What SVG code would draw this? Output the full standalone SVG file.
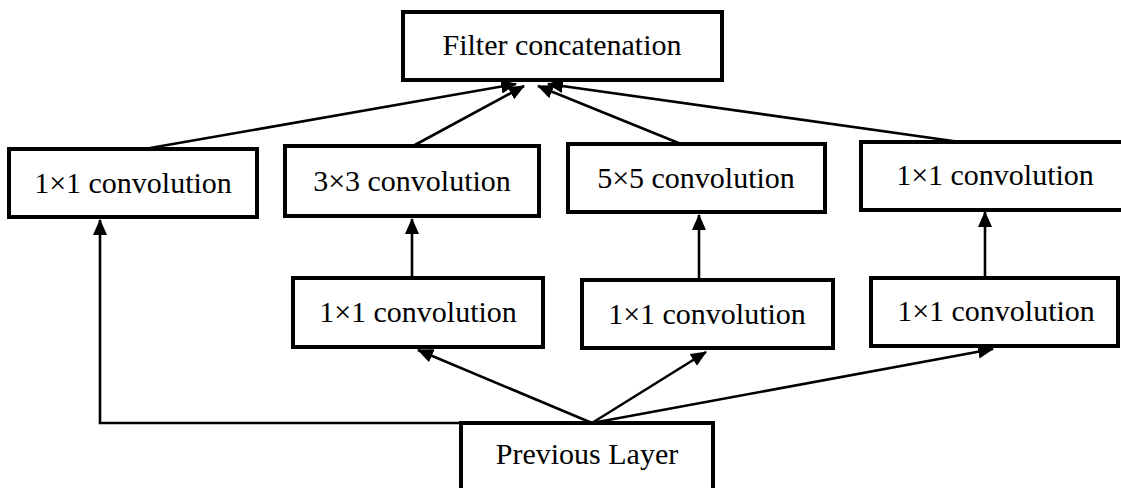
<svg xmlns="http://www.w3.org/2000/svg" width="1121" height="488" viewBox="0 0 1121 488">
  <style>
    .box { fill: #ffffff; stroke: #000000; stroke-width: 4; }
    .lbl { font-family: "Liberation Serif", "Times New Roman", serif; font-size: 30px; fill: #000000; text-anchor: middle; }
    .edge { fill: none; stroke: #000000; stroke-width: 2.6; marker-end: url(#arrow); }
  </style>
  <defs>
    <marker id="arrow" markerUnits="userSpaceOnUse" markerWidth="16" markerHeight="14" refX="15" refY="7" orient="auto">
      <path d="M0,0 L16,7 L0,14 z" fill="#000000"/>
    </marker>
  </defs>
  <rect width="1121" height="488" fill="#ffffff"/>

  <g id="connectors">
    <path class="edge" d="M150,148 L516,84"/>
    <path class="edge" d="M413,146 L524,86"/>
    <path class="edge" d="M681,144 L538,86"/>
    <path class="edge" d="M960,142 L548,84"/>
    <path class="edge" d="M461,423 L100,423 L100,220"/>
    <path class="edge" d="M412,278 L412,219"/>
    <path class="edge" d="M699,280 L699,215"/>
    <path class="edge" d="M985,278 L985,212"/>
    <path class="edge" d="M592,423 L418,350"/>
    <path class="edge" d="M592,423 L706,352"/>
    <path class="edge" d="M592,423 L993,349"/>
  </g>

  <g id="filter-concat">
    <rect class="box" x="403" y="12" width="319" height="68"/>
    <text class="lbl" x="562" y="55">Filter concatenation</text>
  </g>
  <g id="conv1x1-a">
    <rect class="box" x="9" y="149" width="248" height="68"/>
    <text class="lbl" x="133" y="193">1×1 convolution</text>
  </g>
  <g id="conv3x3">
    <rect class="box" x="285" y="146" width="254" height="70"/>
    <text class="lbl" x="412" y="191">3×3 convolution</text>
  </g>
  <g id="conv5x5">
    <rect class="box" x="568" y="144" width="257" height="68"/>
    <text class="lbl" x="696" y="188">5×5 convolution</text>
  </g>
  <g id="conv1x1-d">
    <rect class="box" x="861" y="142" width="264" height="68"/>
    <text class="lbl" x="995" y="185">1×1 convolution</text>
  </g>
  <g id="reduce-3x3">
    <rect class="box" x="293" y="278" width="250" height="69"/>
    <text class="lbl" x="418" y="322">1×1 convolution</text>
  </g>
  <g id="reduce-5x5">
    <rect class="box" x="582" y="280" width="251" height="68"/>
    <text class="lbl" x="707" y="324">1×1 convolution</text>
  </g>
  <g id="pool-proj">
    <rect class="box" x="871" y="278" width="247" height="68"/>
    <text class="lbl" x="996" y="321">1×1 convolution</text>
  </g>
  <g id="previous-layer">
    <rect class="box" x="461" y="423" width="252" height="72"/>
    <text class="lbl" x="587" y="464">Previous Layer</text>
  </g>
</svg>
